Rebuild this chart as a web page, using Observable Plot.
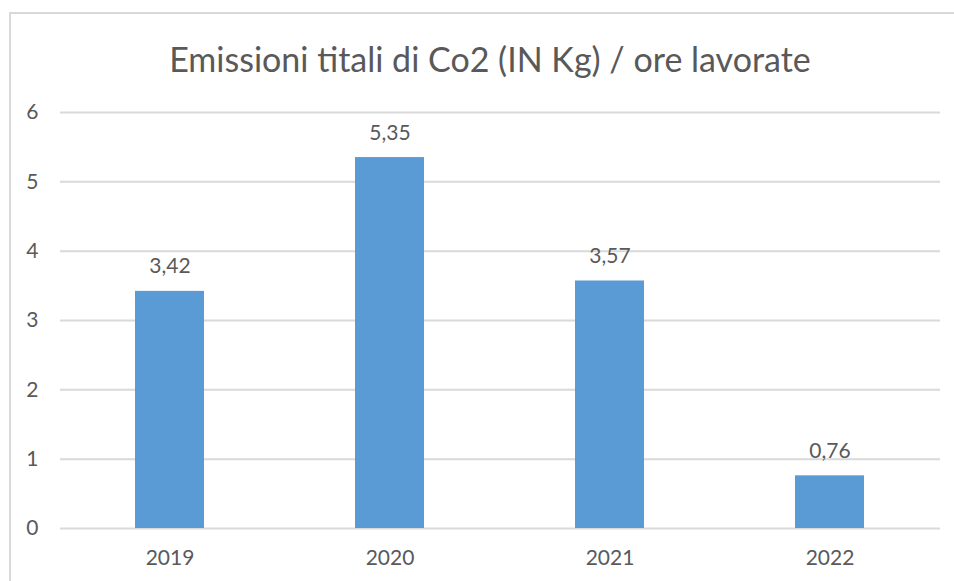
<!DOCTYPE html>
<html>
<head>
<meta charset="utf-8">
<script src="https://cdn.jsdelivr.net/npm/d3@7"></script>
<script src="https://cdn.jsdelivr.net/npm/@observablehq/plot@0.6"></script>
<style>
  html, body { margin: 0; padding: 0; background: #fff; }
  #wrap { position: relative; width: 954px; height: 581px; overflow: hidden; font-family: Lato, "Open Sans", sans-serif; }
  #frame { position: absolute; left: 9px; top: 12px; width: 2000px; height: 2000px; border-top: 2px solid #D9D9D9; border-left: 2px solid #D9D9D9; box-sizing: border-box; }
  #title { position: absolute; left: 0; top: 0; width: 980px; height: 90px; text-align: center; line-height: 118px; font-size: 34px; color: #595959; white-space: nowrap; }
  #chart { position: absolute; left: 0; top: 90px; }
</style>
</head>
<body>
<div id="wrap">
  <div id="frame"></div>
  <div id="title">Emissioni titali di Co2 (IN Kg) / ore lavorate</div>
  <div id="chart"></div>
</div>
<script>
const years = ["2019", "2020", "2021", "2022"];
const values = [3.42, 5.35, 3.57, 0.76];
const yTicks = [0, 1, 2, 3, 4, 5, 6];

const data = years.map((y, i) => ({year: y, value: values[i]}));
const fmt = v => v.toFixed(2).replace(".", ",");

const chart = Plot.plot({
  width: 954,
  height: 491,
  marginLeft: 60,
  marginRight: 14,
  marginTop: 22,
  marginBottom: 53,
  style: {fontFamily: "Lato, 'Open Sans', sans-serif", fontSize: "21px", color: "#595959", background: "transparent"},
  x: {domain: years, paddingInner: 0.686, paddingOuter: 0.343, label: null},
  y: {domain: [0, 6], label: null},
  marks: [
    Plot.ruleY(yTicks, {stroke: "#D9D9D9", strokeWidth: 2}),
    Plot.barY(data, {x: "year", y: "value", fill: "#5B9BD5"}),
    Plot.text(data, {x: "year", y: "value", text: d => fmt(d.value), lineAnchor: "bottom", dy: -18, fill: "#595959", fontSize: 21}),
    Plot.axisY(yTicks, {tickSize: 0, tickPadding: 22, tickFormat: d => String(d), fontSize: 21, fill: "#595959", label: null}),
    Plot.axisX({tickSize: 0, tickPadding: 22, fontSize: 21, fill: "#595959", label: null})
  ]
});
document.getElementById("chart").appendChild(chart);
</script>
</body>
</html>
